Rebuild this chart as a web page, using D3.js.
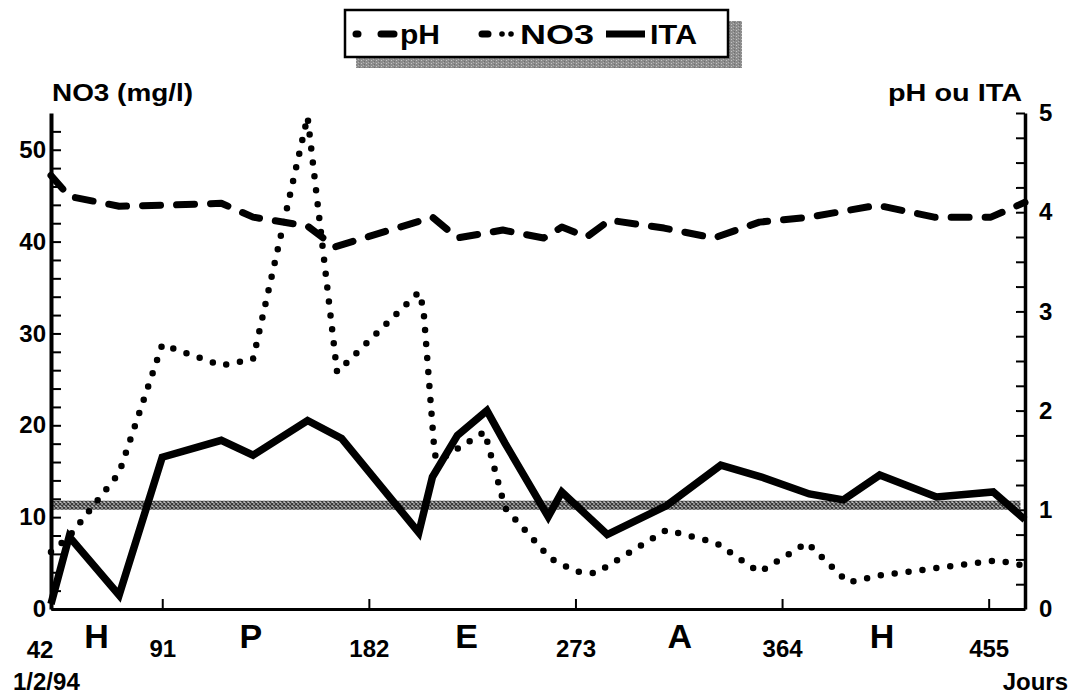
<!DOCTYPE html>
<html>
<head>
<meta charset="utf-8">
<script src="https://cdn.jsdelivr.net/npm/d3@7"></script>
<style>
  html, body { margin: 0; padding: 0; background: #fff; }
  svg { display: block; }
  text { font-family: "Liberation Sans", Arial, Helvetica, sans-serif; font-weight: bold; fill: #000; }
</style>
</head>
<body>
<svg id="chart" width="1075" height="695"></svg>
<script>
// Sampling days (day 42 = 1/2/94) and measured values per series
const no3Days   = [42, 50, 72, 91, 117, 131, 155, 168, 204, 206, 211, 213, 233, 242, 262, 273, 282, 313, 335, 354, 375, 393, 408, 459, 471];
const no3Values = [6.2, 7.9, 14.8, 28.8, 26.5, 27.2, 53.6, 25.8, 34.5, 32.8, 16.8, 16.2, 19.3, 11.0, 5.5, 4.1, 3.9, 8.6, 7.2, 4.0, 7.2, 2.9, 3.7, 5.3, 4.7];

const phDays    = [42, 50, 72, 91, 117, 131, 155, 167, 210, 221, 241, 259, 267, 278, 288, 312, 334, 354, 376, 406, 431, 456, 471];
const phValues  = [4.37, 4.16, 4.06, 4.07, 4.09, 3.95, 3.86, 3.65, 3.95, 3.74, 3.82, 3.74, 3.85, 3.75, 3.92, 3.84, 3.74, 3.90, 3.95, 4.07, 3.95, 3.95, 4.10];

const itaDays   = [42, 50, 72, 91, 117, 131, 155, 170, 204, 210, 221, 234, 242, 261, 267, 287, 313, 337, 355, 376, 391, 407, 432, 457, 471];
const itaValues = [0.05, 0.73, 0.14, 1.53, 1.70, 1.55, 1.90, 1.72, 0.77, 1.33, 1.75, 2.00, 1.67, 0.93, 1.18, 0.75, 1.04, 1.45, 1.33, 1.16, 1.10, 1.35, 1.13, 1.18, 0.90];

// Reference level for nitrate (mg/l)
const no3Threshold = 11.3;

// Axis ticks and labels
const dayTicks    = [91, 182, 273, 364, 455];
const seasonNames = ["H", "P", "E", "A", "H"];
const seasonDays  = [62, 130, 225, 319, 408];
const legendNames = ["pH", "NO3", "ITA"];

const svg = d3.select("#chart");

const x  = d3.scaleLinear().domain([42, 471]).range([51, 1025]);
const yL = d3.scaleLinear().domain([0, 54]).range([609, 113]);
const yR = d3.scaleLinear().domain([0, 5]).range([609, 113]);

const defs = svg.append("defs");
// cross-hatched grey band
const hatch = defs.append("pattern").attr("id", "hatch")
  .attr("patternUnits", "userSpaceOnUse").attr("width", 4).attr("height", 4);
hatch.append("rect").attr("width", 4).attr("height", 4).attr("fill", "#c4c4c4");
hatch.append("path").attr("d", "M0,0L4,4M4,0L0,4").attr("stroke", "#3c3c3c").attr("stroke-width", 1.3);
// grainy shadow under the legend
const grain = defs.append("pattern").attr("id", "grain")
  .attr("patternUnits", "userSpaceOnUse").attr("width", 5).attr("height", 3);
grain.append("rect").attr("width", 5).attr("height", 3).attr("fill", "#8c8c8c");
grain.append("rect").attr("x", 1).attr("y", 0).attr("width", 1).attr("height", 1).attr("fill", "#c4c4c4");
grain.append("rect").attr("x", 3).attr("y", 2).attr("width", 1).attr("height", 1).attr("fill", "#b0b0b0");
grain.append("rect").attr("x", 4).attr("y", 1).attr("width", 1).attr("height", 1).attr("fill", "#6e6e6e");

// threshold band
svg.append("rect")
  .attr("x", x(42)).attr("width", x(469) - x(42))
  .attr("y", yL(no3Threshold) - 4.5).attr("height", 9)
  .attr("fill", "url(#hatch)");

// series
const zip = (days, vals) => days.map((d, i) => [d, vals[i]]);
const lineL = d3.line().x(d => x(d[0])).y(d => yL(d[1]));
const lineR = d3.line().x(d => x(d[0])).y(d => yR(d[1]));

svg.append("path").datum(zip(phDays, phValues))
  .attr("d", lineR).attr("fill", "none").attr("stroke", "#000")
  .attr("stroke-width", 7).attr("stroke-linecap", "round").attr("stroke-linejoin", "round")
  .attr("stroke-dasharray", "18,16");

svg.append("path").datum(zip(no3Days, no3Values))
  .attr("d", lineL).attr("fill", "none").attr("stroke", "#000")
  .attr("stroke-width", 6.5).attr("stroke-linecap", "round").attr("stroke-linejoin", "round")
  .attr("stroke-dasharray", "0,14");

svg.append("path").datum(zip(itaDays, itaValues))
  .attr("d", lineR).attr("fill", "none").attr("stroke", "#000")
  .attr("stroke-width", 7.5).attr("stroke-linejoin", "miter").attr("stroke-miterlimit", 3);

// axes
const styleAxis = (g, lw) => {
  g.select(".domain").attr("stroke", "#000").attr("stroke-width", lw);
  g.selectAll(".tick line").attr("stroke", "#000").attr("stroke-width", 2);
  g.selectAll(".tick text").attr("font-size", 24).attr("font-family", null).attr("fill", "#000");
};

const axL = svg.append("g").attr("transform", `translate(${x(42)},0)`)
  .call(d3.axisLeft(yL).tickValues(d3.range(0, 53, 2)).tickSizeInner(-10).tickSizeOuter(0).tickPadding(5)
    .tickFormat(d => d % 10 === 0 ? d : ""));
styleAxis(axL, 4);

const axR = svg.append("g").attr("transform", `translate(${x(471)},0)`)
  .call(d3.axisRight(yR).tickValues(d3.range(0, 5.001, 0.25)).tickSizeInner(-9).tickSizeOuter(0).tickPadding(14)
    .tickFormat(d => Number.isInteger(d) ? d : ""));
styleAxis(axR, 3.5);

const axB = svg.append("g").attr("transform", `translate(0,${yL(0)})`)
  .call(d3.axisBottom(x).tickValues(dayTicks).tickSizeInner(-10).tickSizeOuter(0).tickPadding(31)
    .tickFormat(d3.format("d")));
styleAxis(axB, 3);

// first-day label and season letters
svg.append("text").attr("x", x(42) - 11).attr("y", 658).attr("text-anchor", "middle")
  .attr("font-size", 24).text("42");
svg.append("text").attr("x", 13).attr("y", 690).attr("font-size", 24).text("1/2/94");
svg.append("text").attr("x", 1068).attr("y", 690).attr("text-anchor", "end").attr("font-size", 24).text("Jours");

svg.selectAll(".season").data(seasonNames).join("text")
  .attr("class", "season")
  .attr("x", (d, i) => x(seasonDays[i])).attr("y", 648)
  .attr("text-anchor", "middle").attr("font-size", 34).attr("font-weight", 900)
  .text(d => d);

// axis titles
svg.append("text").attr("x", 52).attr("y", 101).attr("font-size", 24)
  .attr("textLength", 141).attr("lengthAdjust", "spacingAndGlyphs").text("NO3 (mg/l)");
svg.append("text").attr("x", 888).attr("y", 101).attr("font-size", 24)
  .attr("textLength", 134).attr("lengthAdjust", "spacingAndGlyphs").text("pH ou ITA");

// legend
const lg = svg.append("g");
lg.append("rect").attr("x", 356).attr("y", 21).attr("width", 386).attr("height", 47).attr("fill", "url(#grain)");
lg.append("rect").attr("x", 345).attr("y", 10).attr("width", 383).attr("height", 47)
  .attr("fill", "#fff").attr("stroke", "#000").attr("stroke-width", 2.5);

const legY = 34;
const sample = (x1, x2, w) => lg.append("line").attr("x1", x1).attr("x2", x2)
  .attr("y1", legY).attr("y2", legY).attr("stroke", "#000").attr("stroke-width", w)
  .attr("stroke-linecap", "round");
// pH: short dot then dash
sample(356, 358, 7);
sample(381, 394, 7);
// NO3: oval then two dots
sample(482, 488, 7);
lg.append("circle").attr("cx", 502).attr("cy", legY).attr("r", 2.8).attr("fill", "#000");
lg.append("circle").attr("cx", 511).attr("cy", legY).attr("r", 2.8).attr("fill", "#000");
// ITA: solid
sample(606, 645, 7).attr("stroke-linecap", "butt");

const legX = [400, 520, 650];
const legW = [40, 74, 47];
lg.selectAll(".lt").data(legendNames).join("text").attr("class", "lt")
  .attr("x", (d, i) => legX[i]).attr("y", 44).attr("font-size", 28)
  .attr("textLength", (d, i) => legW[i]).attr("lengthAdjust", "spacingAndGlyphs")
  .text(d => d);
</script>
</body>
</html>
